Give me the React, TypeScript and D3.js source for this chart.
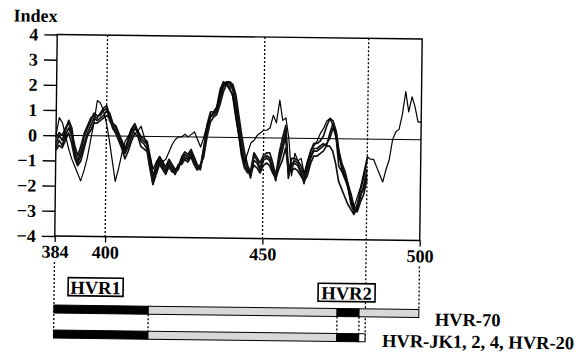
import React, { useRef, useEffect } from 'react';
import * as d3 from 'd3';

// residue numbers covered by each profile
const thickStart = 384;
const thinStart = 384;

// hydropathy index, four closely overlapping profiles (HVR-JK1, 2, 4, HVR-20)
const profileA = [
  -0.3, 0.0, -0.2, 0.2, 0.6, 0.3, -0.6, -1.0, -0.6, 0.0,
  0.3, 0.6, 0.9, 0.8, 0.8, 1.0, 1.1, 0.6, 0.4, 0.2,
  -0.1, -0.4, -0.6, -0.2, 0.2, 0.4, 0.1, -0.1, -0.2, -0.3,
  -1.0, -1.9, -1.2, -0.9, -1.1, -1.3, -1.0, -1.2, -1.4, -1.3,
  -0.9, -0.7, -0.8, -0.6, -0.9, -1.2, -1.3, -0.5, 0.4, 0.9,
  0.9, 1.1, 1.7, 2.1, 2.2, 2.1, 1.9, 1.2, 0.4, -0.5,
  -1.1, -1.3, -1.5, -0.7, -0.9, -1.2, -0.8, -0.7, -0.8, -1.2,
  -1.7, -0.8, -0.3, 0.3, -1.6, -1.0, -0.9, -1.0, -1.3, -1.8,
  -1.2, -0.7, -0.4, -0.4, -0.3, -0.2, -0.3, 0.2, 0.6, 0.1,
  -1.1, -1.3, -1.6, -1.9, -2.6, -2.9, -2.6, -2.0, -1.5, -0.8,
];
const profileB = [
  -0.5, -0.2, -0.4, 0.0, 0.3, 0.0, -0.8, -1.1, -0.8, -0.3,
  0.1, 0.4, 0.7, 0.6, 0.7, 0.8, 1.0, 0.9, 0.5, 0.3,
  0.0, -0.3, -0.7, -0.4, 0.0, 0.3, 0.2, -0.2, -0.3, -0.5,
  -1.2, -1.8, -1.4, -1.0, -1.2, -1.4, -1.1, -1.3, -1.5, -1.2,
  -1.0, -0.8, -0.9, -0.7, -1.0, -1.3, -1.2, -0.7, 0.2, 0.8,
  0.9, 1.0, 1.5, 2.0, 2.2, 2.2, 2.0, 1.5, 0.6, -0.2,
  -0.9, -1.2, -1.6, -0.9, -1.0, -1.3, -0.9, -0.8, -0.9, -1.3,
  -1.6, -1.0, -0.5, 0.1, -1.4, -1.1, -1.0, -1.1, -1.4, -1.6,
  -1.3, -0.8, -0.5, -0.5, -0.4, -0.3, -0.2, 0.0, 0.4, 0.3,
  -0.6, -1.2, -1.5, -1.8, -2.4, -2.8, -2.8, -2.3, -1.8, -1.2,
];
const profileC = [
  -0.6, -0.4, -0.5, -0.2, 0.1, -0.3, -0.9, -1.2, -1.0, -0.5,
  0.0, 0.2, 0.5, 0.5, 0.6, 0.7, 0.8, 0.7, 0.3, 0.1,
  -0.2, -0.5, -0.9, -0.6, -0.2, 0.1, 0.0, -0.4, -0.5, -0.6,
  -1.3, -1.9, -1.5, -1.1, -1.3, -1.5, -1.2, -1.4, -1.4, -1.1,
  -1.1, -0.9, -1.0, -0.8, -1.1, -1.3, -1.1, -0.8, 0.0, 0.6,
  0.8, 0.9, 1.3, 1.8, 2.1, 2.2, 2.1, 1.7, 0.9, 0.1,
  -0.6, -1.1, -1.4, -1.1, -1.2, -1.4, -1.1, -1.0, -1.1, -1.4,
  -1.6, -1.2, -0.9, -0.4, -1.2, -1.3, -1.2, -1.3, -1.5, -1.7,
  -1.5, -1.0, -0.7, -0.7, -0.6, -0.5, -0.3, -0.3, -0.5, -1.0,
  -1.7, -2.0, -2.3, -2.6, -2.8, -3.0, -2.7, -2.2, -2.0, -1.4,
];
const profileD = [
  -0.1, 0.1, 0.0, 0.3, 0.5, 0.1, -0.4, -0.8, -0.4, 0.1,
  0.4, 0.7, 0.8, 0.7, 0.9, 1.1, 1.2, 0.8, 0.5, 0.4,
  0.1, -0.2, -0.5, -0.1, 0.3, 0.5, 0.2, 0.0, -0.1, -0.2,
  -0.8, -1.6, -1.1, -0.8, -1.0, -1.2, -0.9, -1.1, -1.3, -1.2,
  -0.8, -0.6, -0.7, -0.5, -0.8, -1.1, -1.2, -0.4, 0.5, 1.0,
  1.0, 1.2, 1.9, 2.2, 2.1, 1.9, 1.7, 1.0, 0.2, -0.7,
  -1.2, -1.4, -1.3, -0.6, -0.8, -1.0, -0.7, -0.6, -0.6, -1.0,
  -1.5, -0.6, 0.0, 0.5, -1.3, -0.8, -0.8, -0.9, -1.1, -1.5,
  -1.0, -0.5, -0.2, -0.2, -0.1, 0.1, 0.5, 0.8, 0.7, 0.3,
  -0.5, -1.0, -1.3, -1.8, -2.2, -2.7, -2.9, -2.5, -2.2, -1.6,
];

// HVR-70, runs on to residue 500
const profileThin = [
  0.0, 0.7, 0.5, 0.0, -0.5, -0.9, -1.2, -1.5, -1.8, -1.4,
  -0.9, -0.2, 0.5, 1.4, 1.3, 1.0, 0.5, -0.2, -1.0, -1.8,
  -1.3, -0.7, -0.2, 0.0, 0.3, 0.1, 0.2, 0.4, 0.0, -0.4,
  -0.8, -1.3, -1.0, -0.8, -1.0, -0.9, -0.6, -0.3, -0.1, 0.0,
  0.0, 0.1, 0.0, 0.1, 0.2, -0.1, -0.4, 0.0, 0.5, 0.8,
  1.0, 1.2, 1.8, 2.2, 2.1, 2.0, 1.6, 0.8, 0.1, -0.6,
  -1.0, -0.6, -0.2, -0.1, 0.1, 0.2, 0.3, 0.3, 0.4, 0.9,
  0.6, 1.5, 0.7, 0.8, 0.0, -1.5, -0.6, -0.9, -0.8, -1.4,
  -0.9, -0.5, -0.3, -0.1, 0.2, 0.4, 0.7, 0.8, 0.5, 0.0,
  -0.7, -1.1, -1.5, -2.0, -2.5, -2.7, -2.3, -1.9, -1.3, -0.7,
  -0.8, -0.8, -1.1, -1.4, -1.7, -1.2, -0.8, 0.0, 0.3, 0.4,
  1.0, 1.9, 1.1, 1.7, 1.3, 0.7, 0.7,
];

const yTicks = [-4, -3, -2, -1, 0, 1, 2, 3, 4];
const xTicks = [384, 400, 450, 500];
const gridResidues = [400, 450];
const hvr2End = 483;

// domain map bars: [start, end, kind]
const barTop: [number, number, string][] = [
  [384, 414, 'black'], [414, 474, 'gray'], [474, 481, 'black'], [481, 500, 'gray'],
];
const barBottom: [number, number, string][] = [
  [384, 414, 'black'], [414, 474, 'gray'], [474, 481, 'black'], [481, 483, 'white'],
];
const connectors = [414, 474, 481];

const FONT = '"Liberation Serif", "Times New Roman", serif';

const App = () => {
  const svgRef = useRef<SVGSVGElement>(null);

  useEffect(() => {
    if (!svgRef.current) return;
    d3.select(svgRef.current).selectAll('*').remove();

    const svg = d3.select(svgRef.current);
    // the scanned figure is slightly tilted
    const g = svg.append('g').attr('transform', 'rotate(0.7, 56, 135)');

    const x = d3.scaleLinear().domain([384, 500]).range([56, 421]);
    const y = d3.scaleLinear().domain([-4, 4]).range([236, 34.5]);

    // y axis
    const yAxis = g.append('g')
      .attr('transform', `translate(${x(384)},0)`)
      .call(d3.axisLeft(y).tickValues(yTicks).tickSize(13).tickPadding(6).tickFormat(d3.format('d')));
    yAxis.select('.domain').remove();
    yAxis.selectAll('line').attr('stroke', '#000').attr('stroke-width', 1.4);
    yAxis.selectAll('text')
      .attr('font-family', FONT).attr('font-weight', 'bold').attr('font-size', 18).attr('fill', '#000');

    // x axis
    const xAxis = g.append('g')
      .attr('transform', `translate(0,${y(-4)})`)
      .call(d3.axisBottom(x).tickValues(xTicks).tickSize(6).tickPadding(3).tickFormat(d3.format('d')));
    xAxis.select('.domain').remove();
    xAxis.selectAll('line').attr('stroke', '#000').attr('stroke-width', 1.3);
    xAxis.selectAll('text')
      .attr('font-family', FONT).attr('font-weight', 'bold').attr('font-size', 18).attr('fill', '#000');

    g.append('text')
      .attr('x', 12).attr('y', 22)
      .attr('font-family', FONT).attr('font-weight', 'bold').attr('font-size', 18)
      .text('Index');

    // frame
    g.append('rect')
      .attr('x', x(384)).attr('y', y(4))
      .attr('width', x(500) - x(384)).attr('height', y(-4) - y(4))
      .attr('fill', 'none').attr('stroke', '#000').attr('stroke-width', 1.4);

    g.append('line')
      .attr('x1', x(384)).attr('x2', x(500)).attr('y1', y(0)).attr('y2', y(0))
      .attr('stroke', '#000').attr('stroke-width', 1);

    const dotted = (x1: number, y1: number, y2: number) =>
      g.append('line')
        .attr('x1', x1).attr('x2', x1).attr('y1', y1).attr('y2', y2)
        .attr('stroke', '#000').attr('stroke-width', 1.3).attr('stroke-dasharray', '2,2');

    gridResidues.forEach(r => dotted(x(r), y(4), y(-4)));

    // bars
    const barH = 8;
    const topY = 305;
    const botY = 330;
    dotted(x(384), 262, botY + barH);
    dotted(x(500), 262, topY);
    dotted(x(hvr2End), y(4), botY + barH);
    connectors.forEach(r => dotted(x(r), topY + barH, botY));

    const fills: Record<string, string> = { black: '#000', gray: '#d8d8d8', white: '#fff' };
    [[barTop, topY], [barBottom, botY]].forEach(([segs, by]) => {
      (segs as [number, number, string][]).forEach(([s, e, kind]) => {
        g.append('rect')
          .attr('x', x(s)).attr('y', by as number)
          .attr('width', x(e) - x(s)).attr('height', barH)
          .attr('fill', fills[kind]).attr('stroke', '#000').attr('stroke-width', 1);
      });
    });

    // HVR labels in boxes
    const boxLabel = (cx: number, top: number, w: number, label: string) => {
      g.append('rect')
        .attr('x', cx - w / 2).attr('y', top).attr('width', w).attr('height', 18)
        .attr('fill', '#fff').attr('stroke', '#000').attr('stroke-width', 1.6);
      g.append('text')
        .attr('x', cx).attr('y', top + 16)
        .attr('text-anchor', 'middle')
        .attr('font-family', FONT).attr('font-weight', 'bold').attr('font-size', 18.5)
        .text(label);
    };
    boxLabel(97.5, 277.5, 55, 'HVR1');
    boxLabel(348.5, 280, 57, 'HVR2');

    g.append('text')
      .attr('x', 437).attr('y', 321)
      .attr('font-family', FONT).attr('font-weight', 'bold').attr('font-size', 18.5)
      .text('HVR-70');
    g.append('text')
      .attr('x', 384.5).attr('y', 343)
      .attr('font-family', FONT).attr('font-weight', 'bold').attr('font-size', 18.5)
      .text('HVR-JK1, 2, 4, HVR-20');

    // profiles
    const lineFor = (start: number) => d3.line<number>()
      .x((_, i) => x(start + i))
      .y(d => y(d));

    [profileA, profileB, profileC, profileD].forEach(p => {
      g.append('path')
        .attr('d', lineFor(thickStart)(p))
        .attr('fill', 'none').attr('stroke', '#111').attr('stroke-width', 1.7)
        .attr('stroke-linejoin', 'round');
    });

    g.append('path')
      .attr('d', lineFor(thinStart)(profileThin))
      .attr('fill', 'none').attr('stroke', '#000').attr('stroke-width', 1.2)
      .attr('stroke-linejoin', 'round');
  }, []);

  return (
    <svg
      ref={svgRef}
      width={586}
      height={352}
      style={{ position: 'absolute', left: 0, top: 0, background: '#fff' }}
    />
  );
};

export default App;
